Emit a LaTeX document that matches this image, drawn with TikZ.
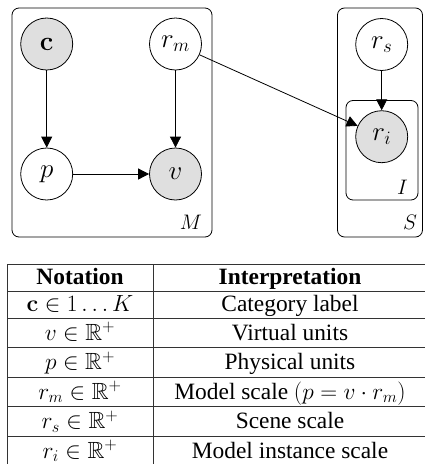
\RequirePackage{fix-cm}
\documentclass[tikz,border=0pt]{standalone}
\usepackage{amssymb}
\usepackage[no-math]{fontspec}
\setmainfont{Liberation Serif}
\usetikzlibrary{arrows.meta}

\begin{document}
\begin{tikzpicture}[x=1pt,y=-1pt,
  var/.style={circle, draw, line width=0.8pt, minimum size=52pt, inner sep=0pt,
              font=\fontsize{27}{32}\selectfont},
  obs/.style={var, fill=gray!25},
  edge/.style={-{Triangle[length=11pt,width=11pt]}, line width=0.8pt},
  plate/.style={draw, line width=0.8pt, rounded corners=7pt},
  platelabel/.style={font=\fontsize{21}{25}\selectfont, inner sep=0pt},
  cell/.style={font=\fontsize{23.4}{28}\selectfont, inner sep=0pt, anchor=base},
  rule/.style={line width=0.9pt, black!80}
]
\useasboundingbox (0,0) rectangle (425,464);

% plates
\draw[plate] (12,8) rectangle (212,237);
\draw[plate] (337.5,8) rectangle (422.5,237);
\draw[plate] (346,100.5) rectangle (418,200);
\node[platelabel] (lM) at (191,222) {$M$};
\node[platelabel] (lS) at (410,222) {$S$};
\node[platelabel] (lI) at (402.5,187) {$I$};

% variables
\node[obs] (c)  at (46.7,44)  {$\mathbf{c}$};
\node[var] (rm) at (175.5,44) {$r_m$};
\node[var] (p)  at (46.7,174) {$p$};
\node[obs] (v)  at (175.5,174) {$v$};
\node[var] (rs) at (381.7,44.5) {$r_s$};
\node[obs] (ri) at (381.7,136.7) {$r_i$};

% dependencies
\draw[edge] (c) -- (p);
\draw[edge] (rm) -- (v);
\draw[edge] (p) -- (v);
\draw[edge] (rs) -- (ri);
\draw[edge] (rm) -- (ri);

% notation table: rules
\foreach \yy in {264.5,291.5,318,347.5,377,406.5,436}
  \draw[rule] (7,\yy) -- (426,\yy);
\draw[rule] (7,264.5) -- (7,466);
\draw[rule] (153,264.5) -- (153,466);

% notation table: cells
\node[cell] (h1) at (80,284)  {\bfseries Notation};
\node[cell] (h2) at (290,284) {\bfseries Interpretation};
\node[cell] (a1) at (80,311)  {$\mathbf{c}\in 1\ldots K$};
\node[cell] (a2) at (290,311) {Category label};
\node[cell] (b1) at (80,340)  {$v\in\mathbb{R}^{+}$};
\node[cell] (b2) at (290,340) {Virtual units};
\node[cell] (d1) at (80,369.5)  {$p\in\mathbb{R}^{+}$};
\node[cell] (d2) at (290,369.5) {Physical units};
\node[cell] (e1) at (80,399)  {$r_m\in\mathbb{R}^{+}$};
\node[cell] (e2) at (290,399) {Model scale $(p=v\cdot r_m)$};
\node[cell] (f1) at (80,428.5)  {$r_s\in\mathbb{R}^{+}$};
\node[cell] (f2) at (290,428.5) {Scene scale};
\node[cell] (g1) at (80,458)  {$r_i\in\mathbb{R}^{+}$};
\node[cell] (g2) at (290,458) {Model instance scale};
\end{tikzpicture}
\end{document}
